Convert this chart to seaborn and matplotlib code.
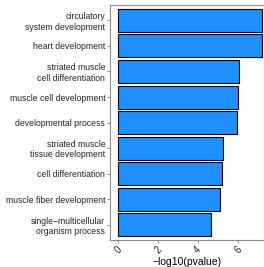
import pandas as pd
import seaborn as sns
import matplotlib
matplotlib.use("Agg")
import matplotlib.pyplot as plt

# GO terms and their enrichment scores (-log10 p-value), top to bottom
terms = [
    "circulatory\nsystem development",
    "heart development",
    "striated muscle\ncell differentiation",
    "muscle cell development",
    "developmental process",
    "striated muscle\ntissue development",
    "cell differentiation",
    "muscle fiber development",
    "single\u2212multicellular\norganism process",
]
scores = [7.18, 7.18, 6.05, 6.02, 5.95, 5.27, 5.18, 5.10, 4.67]
x_ticks = [0, 2, 4, 6]

df = pd.DataFrame({"term": terms, "score": scores})

sns.set_style("white")
plt.rcParams["font.family"] = ["Liberation Sans", "DejaVu Sans"]

fig = plt.figure(figsize=(2.64, 2.67), dpi=100)
ax = fig.add_axes([0.417, 0.101, 0.583, 0.880])

sns.barplot(data=df, x="score", y="term", orient="h", color="#1E90FF",
            edgecolor="black", linewidth=0.8, width=0.9, saturation=1, ax=ax)

ax.set_xlim(-0.4, 7.3)
ax.set_ylim(len(terms) - 0.4, -0.6)
ax.set_xticks(x_ticks)
ax.set_xticklabels([str(t) for t in x_ticks], rotation=45, ha="center", va="top")
ax.set_xlabel("\u2212log10(pvalue)", fontsize=7.5, color="black", labelpad=1)
ax.set_ylabel("")

ax.tick_params(axis="both", colors="#7f7f7f", labelcolor="#222222",
               length=2, width=0.6, pad=1.5)
ax.tick_params(axis="y", left=True, labelsize=6.2)
ax.tick_params(axis="x", bottom=True, labelsize=7)

for side in ["left", "bottom", "top", "right"]:
    ax.spines[side].set_color("#8c8c8c")
    ax.spines[side].set_linewidth(0.8)

fig.savefig("out.png", dpi=100)
